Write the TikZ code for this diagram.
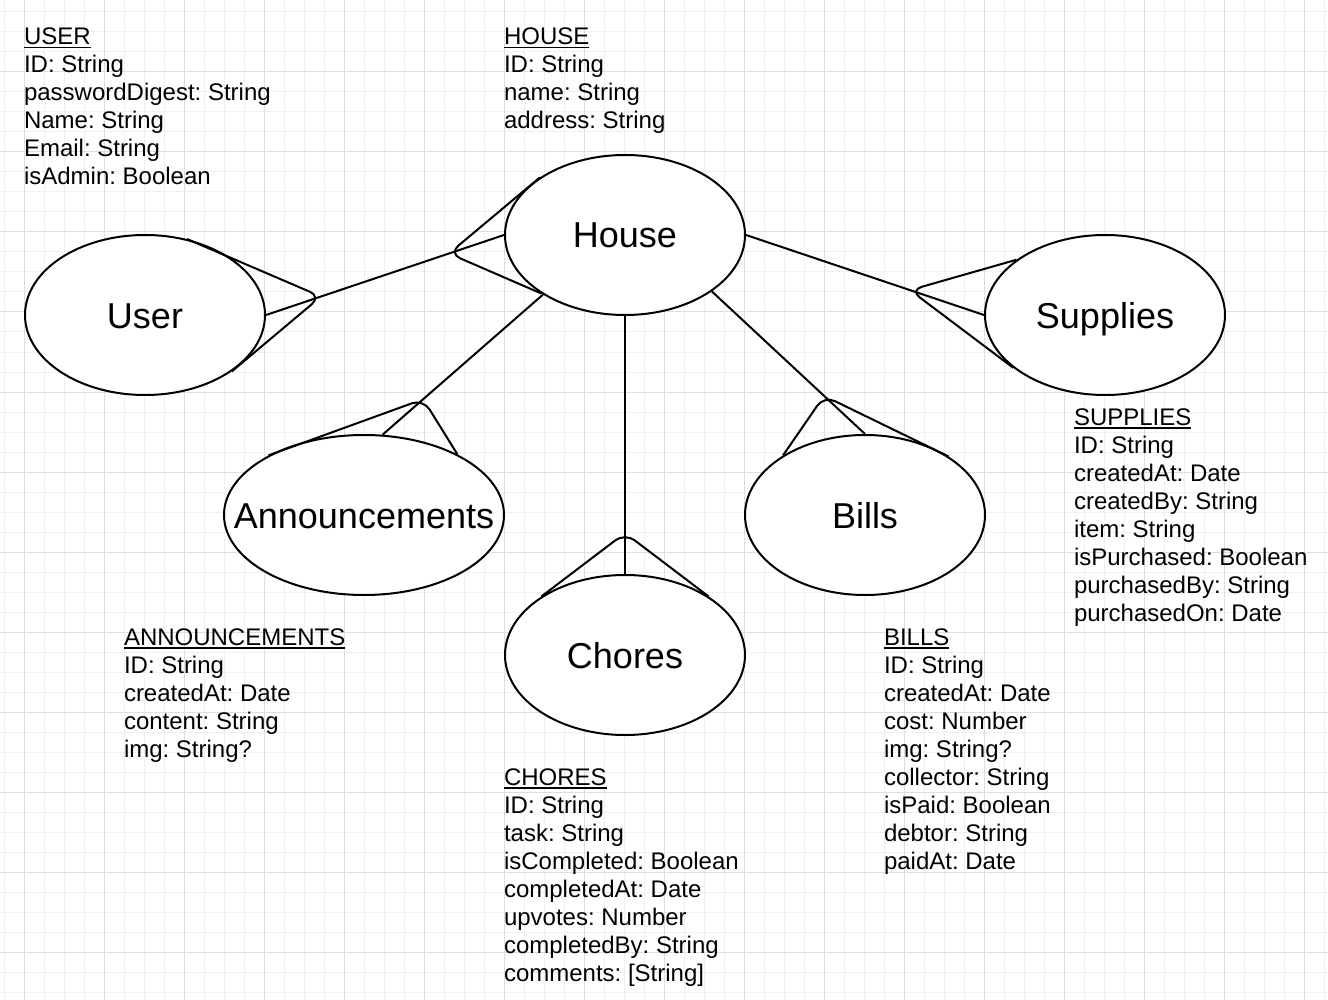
\documentclass[tikz,border=0pt]{standalone}
\usepackage{fontspec}
\setmainfont{Liberation Sans}
\usetikzlibrary{shapes.geometric, calc}
\definecolor{gridminor}{HTML}{F0F0F0}
\definecolor{gridmajor}{HTML}{DEDEDE}
\newcommand{\erhead}[1]{\setbox0\hbox{#1}\rlap{\rule[-3.5pt]{\wd0}{1.5pt}}\box0}
\newcommand{\erstrut}{\rule{0pt}{22pt}}
\frenchspacing

\begin{document}
\begin{tikzpicture}[x=1pt, y=-1pt, line width=2pt,
  entity/.style={ellipse, draw, fill=white, minimum width=240pt, minimum height=160pt, inner sep=0pt, text height=26pt, text depth=0pt, font=\fontsize{36}{40}\selectfont},
  fields/.style={anchor=north west, align=left, inner sep=0pt, font=\fontsize{24}{28}\selectfont},
  crowfoot/.style={rounded corners=12pt},
  gridline/.style={line width=1pt}]
\useasboundingbox (0,0) rectangle (1328,1000);
\fill[white] (0,0) rectangle (1328,1000);
\foreach \gx in {4,24,...,1324} \draw[gridline, gridminor] (\gx,0) -- (\gx,1000);
\foreach \gy in {12,32,...,992} \draw[gridline, gridminor] (0,\gy) -- (1328,\gy);
\foreach \gx in {24,104,...,1304} \draw[gridline, gridmajor] (\gx,0) -- (\gx,1000);
\foreach \gy in {72,152,...,952} \draw[gridline, gridmajor] (0,\gy) -- (1328,\gy);

\node[entity] (user) at (145,315) {User};
\node[entity] (house) at (625,235) {House};
\node[entity] (supplies) at (1105,315) {Supplies};
\node[entity, minimum width=280pt] (announcements) at (364,515) {\makebox[0pt]{Announcements}};
\node[entity] (bills) at (865,515) {Bills};
\node[entity] (chores) at (625,655) {Chores};

\draw (user.east) -- (house.west);
\draw (house.east) -- (supplies.west);
\draw (house.216) -- (announcements.77);
\draw (house.south) -- (chores.north);
\draw (house.-33) -- (bills.north);

\coordinate (user foot) at ($(user.east)!58pt!(house.west)$);
\coordinate (house foot) at ($(house.west)!58pt!(user.east)$);
\coordinate (supplies foot) at ($(supplies.west)!78pt!(house.east)$);
\coordinate (announcements foot) at ($(announcements.77)!54pt!(house.216)$);
\coordinate (chores foot) at ($(chores.north)!41pt!(house.south)$);
\coordinate (bills foot) at ($(bills.north)!56pt!(house.-33)$);

\draw[crowfoot] (user.61) -- (user foot) -- (user.-33);
\draw[crowfoot] (house.146) -- (house foot) -- (house.215);
\draw[crowfoot] (supplies.148) -- (supplies foot) -- (supplies.210);
\draw[crowfoot] (announcements.148) -- (announcements foot) -- (announcements.33);
\draw[crowfoot] (chores.145) -- (chores foot) -- (chores.35);
\draw[crowfoot] (bills.144) -- (bills foot) -- (bills.35);

\node[fields] (user fields) at (23,22) {\erstrut\erhead{USER}\\ID: String\\passwordDigest: String\\Name: String\\Email: String\\isAdmin: Boolean};
\node[fields] (house fields) at (503,22) {\erstrut\erhead{HOUSE}\\ID: String\\name: String\\address: String};
\node[fields] (supplies fields) at (1073,402) {\erstrut\erhead{SUPPLIES}\\ID: String\\createdAt: Date\\createdBy: String\\item: String\\isPurchased: Boolean\\purchasedBy: String\\purchasedOn: Date};
\node[fields] (announcements fields) at (123,622) {\erstrut\erhead{ANNOUNCEMENTS}\\ID: String\\createdAt: Date\\content: String\\img: String?};
\node[fields] (chores fields) at (503,762) {\erstrut\erhead{CHORES}\\ID: String\\task: String\\isCompleted: Boolean\\completedAt: Date\\upvotes: Number\\completedBy: String\\comments: [String]};
\node[fields] (bills fields) at (883,622) {\erstrut\erhead{BILLS}\\ID: String\\createdAt: Date\\cost: Number\\img: String?\\collector: String\\isPaid: Boolean\\debtor: String\\paidAt: Date};
\end{tikzpicture}
\end{document}
